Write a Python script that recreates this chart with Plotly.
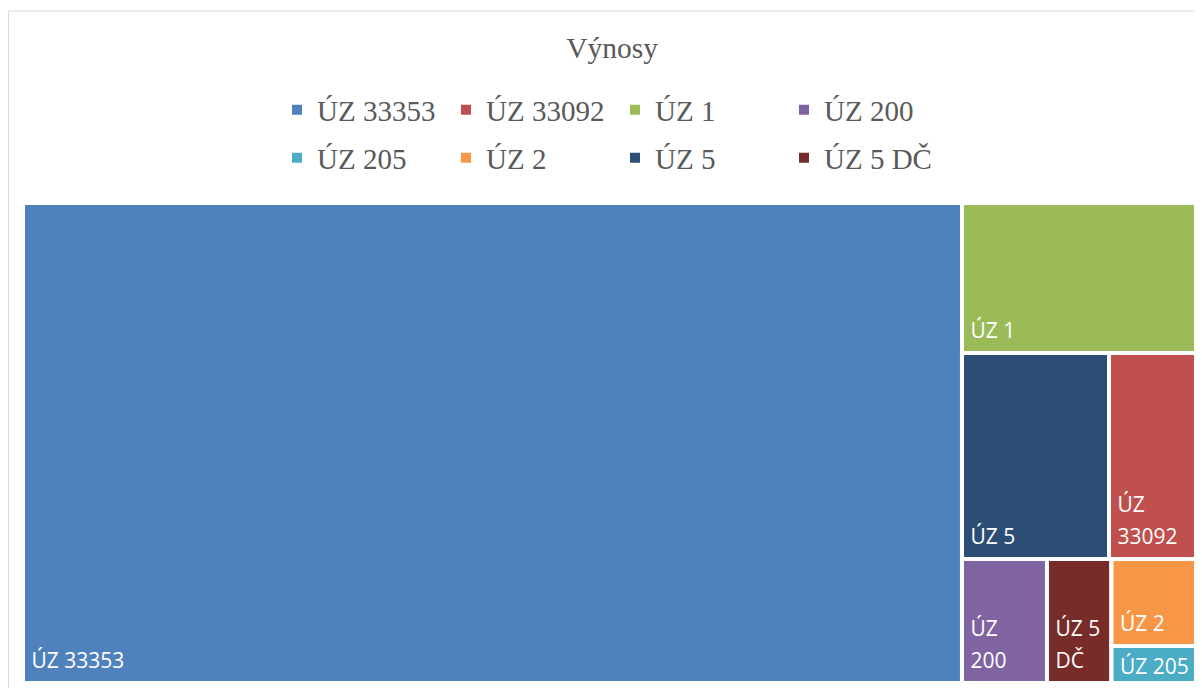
'''
    Treemap "Výnosy" recreated with Plotly.
'''
import plotly.graph_objects as go

# data ------------------------------------------------------------------
categories = ['ÚZ 33353', 'ÚZ 33092', 'ÚZ 1', 'ÚZ 200',
              'ÚZ 205', 'ÚZ 2', 'ÚZ 5', 'ÚZ 5 DČ']
values = [79779, 3318, 6319, 1866, 580, 1363, 5360, 1416]
colors = ['#4F81BD', '#C0504D', '#9BBB59', '#8064A2',
          '#4BACC6', '#F79646', '#2C4D75', '#772C2A']
# labels as Excel wraps them in the narrow tiles
cell_labels = [['ÚZ 33353'], ['ÚZ', '33092'], ['ÚZ 1'], ['ÚZ', '200'],
               ['ÚZ 205'], ['ÚZ 2'], ['ÚZ 5'], ['ÚZ 5', 'DČ']]

# grouping used only to reproduce the Excel tile arrangement
# (node, parent) in drawing order
tile_order = [
    ('ÚZ 33353', ''), ('vpravo', ''),
    ('ÚZ 1', 'vpravo'), ('stred', 'vpravo'), ('dole', 'vpravo'),
    ('ÚZ 5', 'stred'), ('ÚZ 33092', 'stred'),
    ('ÚZ 200', 'dole'), ('ÚZ 5 DČ', 'dole'), ('roh', 'dole'),
    ('ÚZ 2', 'roh'), ('ÚZ 205', 'roh'),
]

GREY = '#595959'
SERIF = 'Liberation Serif'
NBSP = '\u00a0'
LABEL_SIZE = 21
BASE_SIZE = 8   # sets the line step (1.3 * BASE_SIZE px)


def fmt_label(lines, bottom_gap=True):
    '''
        Builds the tile text: a leading space on every line and some
        empty space under the last line, like the inner margin in Excel.
    '''
    parts = ['<span style="font-size:%dpx">%s%s</span>'
             % (LABEL_SIZE, NBSP, line) for line in lines]
    # three small line steps between two visible lines
    text = ('<br>' + NBSP + '<br>' + NBSP + '<br>').join(parts)
    if bottom_gap:
        text += '<br>' + NBSP
    return text


ids, parents, vals, cols, texts = [], [], [], [], []
for node, parent in tile_order:
    ids.append(node)
    parents.append(parent)
    if node in categories:
        i = categories.index(node)
        vals.append(values[i])
        cols.append(colors[i])
        texts.append(fmt_label(cell_labels[i], values[i] > 1000))
    else:
        vals.append(0)
        cols.append('white')
        texts.append('')

fig = go.Figure()

fig.add_trace(go.Treemap(
    ids=ids, labels=ids, parents=parents, values=vals,
    text=texts, texttemplate='%{text}', textposition='bottom left',
    textfont=dict(family='Open Sans', size=BASE_SIZE, color='white'),
    branchvalues='remainder', sort=False,
    marker=dict(colors=cols, line=dict(color='white', width=4),
                pad=dict(t=0, l=0, r=0, b=0)),
    tiling=dict(packing='slice-dice', pad=0),
    pathbar=dict(visible=False),
    root=dict(color='white'),
    hoverinfo='label+value'))

# legend entries (treemap has no legend of its own)
for i, cat in enumerate(categories):
    fig.add_trace(go.Scatter(
        x=[None], y=[None], mode='markers', name=cat,
        marker=dict(symbol='square', size=10, color=colors[i]),
        legend='legend' if i < 4 else 'legend2'))

legend_style = dict(orientation='h', xanchor='left', yanchor='middle',
                    x=0.2158, entrywidth=124, entrywidthmode='pixels',
                    font=dict(family=SERIF, size=29, color=GREY),
                    bgcolor='rgba(0,0,0,0)', tracegroupgap=0)

fig.update_layout(
    width=1194, height=680,
    margin=dict(l=15, r=2, t=195, b=5),
    paper_bgcolor='white', plot_bgcolor='white',
    title=dict(text='Výnosy', x=0.506, xref='container', xanchor='center',
               y=0.941, yref='container', yanchor='middle',
               font=dict(family=SERIF, size=29.5, color=GREY)),
    legend=dict(legend_style, y=1.194),
    legend2=dict(legend_style, y=1.094),
    xaxis=dict(visible=False), yaxis=dict(visible=False),
)

# light frame of the chart area
fig.add_shape(type='rect', xref='paper', yref='paper',
              x0=-0.0123, x1=1.02, y0=-0.05, y1=1.4,
              line=dict(color='#D9D9D9', width=1), layer='below')

fig.write_html('out.html')
